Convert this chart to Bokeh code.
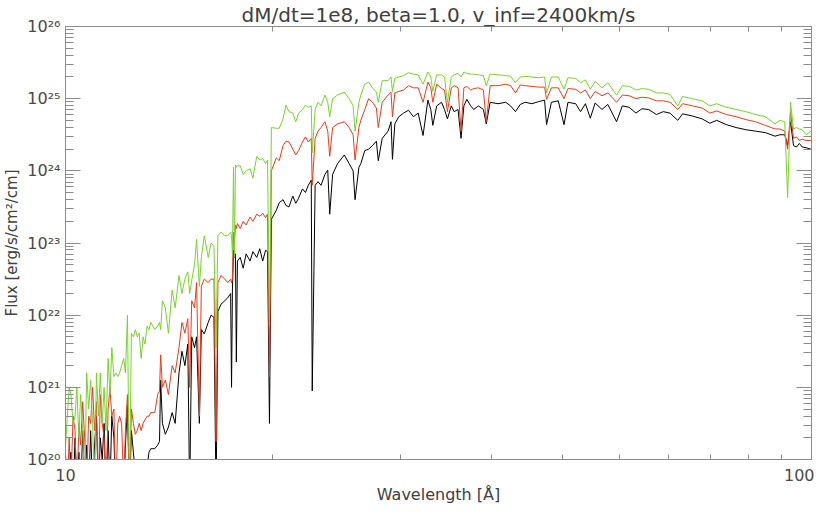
from bokeh.plotting import figure
from bokeh.models import LogAxis, FixedTicker
from bokeh.embed import file_html
from bokeh.resources import INLINE

# ---------------- data ----------------
# wavelength in Angstrom
wavelength = [
    10.39, 10.46, 10.52, 10.58, 10.65, 10.72, 10.78, 10.85, 10.91, 10.98,
    11.05, 11.12, 11.19, 11.26, 11.33, 11.40, 11.47, 11.54, 11.61, 11.68,
    11.75, 11.82, 11.90, 11.97, 12.04, 12.12, 12.19, 12.27, 12.34, 12.42,
    12.50, 12.57, 12.65, 12.73, 12.81, 12.89, 12.97, 13.05, 13.13, 13.21,
    13.29, 13.37, 13.46, 13.54, 13.62,
    13.71, 13.79, 13.92, 14.00, 14.05, 14.13, 14.26, 14.40, 14.57, 14.71,
    14.89, 15.03, 15.17, 15.31, 15.40, 15.50, 15.64, 15.74, 15.88, 15.98,
    16.13, 16.33, 16.48, 16.63, 16.74, 16.84, 17.00, 17.21, 17.37, 17.53,
    17.58, 17.63,
    17.69, 17.74, 17.80, 17.85, 17.91, 18.07, 18.24, 18.41, 18.64, 18.81,
    19.04, 19.22, 19.40, 19.58, 19.70, 19.82, 19.94,
    20.25, 20.44, 20.69, 20.88, 21.08, 21.34, 21.54, 21.73, 22.00, 22.21,
    22.41, 22.62, 22.69, 22.90, 23.11, 23.33, 23.62, 23.83, 23.98, 24.20,
    24.58, 25.11, 25.50, 25.82, 25.98, 26.30, 26.46, 26.79, 27.12, 27.45,
    27.79, 27.96, 28.31, 28.84, 29.11, 29.24, 29.46, 29.83, 30.29, 30.76,
    31.24, 31.72, 32.21, 32.71, 33.01, 33.22, 33.63, 34.15, 34.47, 34.79,
    35.22, 35.54, 35.98, 36.32, 36.65, 36.99, 37.45, 37.80, 38.38, 38.98,
    39.34, 39.82, 40.82, 41.83, 42.48, 43.14, 43.80, 44.48, 45.45, 46.44,
    47.30, 47.60, 48.33,
    49.39, 50.30, 50.93, 52.19, 53.00, 53.82, 54.66, 55.50, 56.71, 57.77,
    59.39, 60.49, 61.81, 63.15, 64.33, 65.73, 67.36, 68.83, 70.32, 72.07,
    73.19, 75.48, 77.83, 79.77, 81.50, 84.05, 86.67, 89.38, 92.17, 95.04,
    98.01, 99.53, 101.07, 102.0, 102.95, 103.91, 104.87, 105.85, 106.83, 108.14,
    109.8,
]

# log10 of flux [erg/s/cm^2/cm] for the three models
log_flux_black = [
    19.6, 19.5, 19.8, 20.1, 19.5, 20.3, 19.6, 20.1, 19.5, 20.4,
    19.7, 20.2, 19.5, 20.4, 19.6, 20.2, 20.6, 19.5, 20.3, 20.0,
    20.5, 19.5, 20.4, 19.6, 20.6, 20.3, 19.5, 20.0, 19.6, 19.5,
    19.5, 20.2, 20.75, 19.5, 20.4, 20.1, 19.8, 19.6, 19.5, 19.5,
    19.5, 19.6, 19.9, 20.1, 20.15,
    20.15, 20.15, 20.2, 20.25, 21.1, 20.5, 20.35, 20.45, 20.65, 20.5,
    21.2, 21.5, 21.3, 21.6, 19.5, 21.7, 21.55, 21.7, 20.5, 21.8,
    21.74, 21.9, 22.0, 21.97, 19.5, 22.05, 22.15, 22.2, 22.24, 22.3,
    21.0, 22.35,
    22.9, 22.8, 22.85, 21.35, 22.75, 22.8, 22.65, 22.85, 22.75, 22.88,
    22.8, 22.92, 22.75, 22.9, 22.88, 20.5, 23.33,
    23.45, 23.56, 23.6, 23.52, 23.5, 23.65, 23.55, 23.62, 23.75, 23.7,
    23.8, 23.87, 20.95, 23.8, 23.85, 23.8, 23.95, 24.01, 23.4, 23.95,
    24.1, 24.22, 24.1, 24.0, 23.6, 24.05, 24.1, 24.28, 24.3, 24.35,
    24.41, 24.14, 24.45, 24.55, 24.68, 24.16, 24.65, 24.75, 24.8, 24.84,
    24.75, 24.8, 24.49, 24.98, 24.85, 24.63, 24.9, 24.95, 24.85, 24.72,
    24.9, 24.82, 24.85, 24.45, 24.9, 24.99, 24.9, 24.85, 24.9, 24.85,
    24.65, 24.95, 24.93, 24.95, 24.9, 24.82, 24.92, 24.95, 24.93, 24.96,
    24.98, 24.64, 24.95,
    24.97, 24.64, 24.95, 24.93, 24.82, 24.93, 24.73, 24.94, 24.85, 24.92,
    24.68, 24.9, 24.88, 24.8, 24.86, 24.85, 24.78, 24.82, 24.8, 24.7,
    24.79, 24.76, 24.72, 24.66, 24.7, 24.64, 24.6, 24.57, 24.55, 24.53,
    24.48, 24.5, 24.5, 24.35, 24.68, 24.35, 24.33, 24.38, 24.33, 24.32,
    24.3,
]

log_flux_red = [
    20.2, 19.5, 20.3, 19.6, 20.6, 20.4, 19.5, 20.5, 20.2, 20.8,
    20.3, 19.6, 20.6, 20.5, 21.0, 20.4, 20.8, 19.5, 20.9, 20.5,
    20.3, 19.5, 20.7, 21.0, 20.6, 20.7, 19.5, 20.5, 20.6, 20.5,
    19.6, 20.4, 20.9, 19.5, 20.7, 20.5, 20.35, 20.4, 20.5, 20.4,
    20.5, 20.55, 20.6, 20.6, 20.65,
    20.65, 20.65, 20.9, 20.95, 21.45, 21.0, 21.1, 20.9, 21.3, 21.2,
    21.55, 21.9, 21.75, 21.95, 21.0, 22.2, 22.1, 22.45, 20.6, 22.4,
    22.5, 22.45, 22.5, 22.5, 20.25, 22.45, 22.55, 22.5, 22.45, 22.5,
    22.45, 22.5,
    23.15, 23.0, 23.25, 23.2, 23.27, 23.2, 23.3, 23.25, 23.36, 23.3,
    23.4, 23.37, 23.41, 23.35, 23.4, 21.15, 24.0,
    24.18, 24.14, 24.35, 24.41, 24.40, 24.3, 24.22, 24.28, 24.4, 24.47,
    24.4, 24.45, 23.8, 24.45, 24.55, 24.6, 24.68, 24.55, 24.2, 24.6,
    24.65, 24.68, 24.6, 24.5, 24.15, 24.6, 24.7, 24.85, 25.0, 24.95,
    24.87, 24.6, 24.95, 25.05, 25.09, 24.75, 25.08, 25.1, 25.12, 25.18,
    25.15, 25.15, 24.95, 25.23, 25.15, 24.95, 25.2, 25.14, 25.12, 24.82,
    25.15, 25.18, 25.15, 24.55, 25.15, 25.17, 25.12, 25.14, 25.15, 25.12,
    24.68, 25.18, 25.18, 25.2, 25.18, 25.08, 25.19, 25.18, 25.17, 25.16,
    25.16, 24.99, 25.15,
    25.15, 25.0, 25.14, 25.13, 25.08, 25.12, 25.0, 25.1, 25.04, 25.08,
    24.95, 25.05, 25.04, 25.0, 25.02, 25.01, 24.97, 24.97, 24.95, 24.85,
    24.93, 24.9, 24.87, 24.8, 24.83, 24.78, 24.75, 24.71, 24.68, 24.63,
    24.58, 24.58, 24.55, 24.3, 24.82, 24.45, 24.47, 24.42, 24.44, 24.42,
    24.42,
]

log_flux_green = [
    20.1, 20.6, 21.0, 20.9, 20.5, 20.6, 21.0, 20.3, 20.9, 20.4,
    19.6, 21.2, 20.7, 21.1, 20.5, 19.5, 21.2, 20.6, 21.2, 20.5,
    21.0, 20.4, 21.4, 20.9, 21.55, 21.15, 21.2, 21.15, 21.2, 21.3,
    21.4, 21.2, 22.0, 19.5, 21.75, 21.7, 21.8, 21.7, 21.75, 21.4,
    21.7, 21.6, 21.85, 21.8, 21.9,
    21.85, 21.8, 21.85, 21.9, 21.8, 22.2, 22.1, 21.75, 22.35, 22.1,
    22.55, 22.3, 22.5, 22.6, 22.3, 22.48, 22.7, 23.05, 22.4, 22.8,
    23.1, 22.8, 23.0, 22.95, 21.55, 23.1, 23.15, 23.1, 23.1, 23.15,
    23.1, 22.85,
    24.05, 22.8, 24.08, 24.05, 24.07, 24.07, 23.95, 24.0, 24.03, 23.9,
    24.2, 24.15, 24.17, 24.1, 24.15, 21.85, 24.6,
    24.59, 24.59, 24.72, 24.91, 24.82, 24.8, 24.68, 24.8, 24.85, 24.91,
    24.88, 24.9, 24.25, 24.85, 24.95, 24.9, 25.05, 24.95, 24.75, 25.0,
    25.05, 25.09, 25.0, 24.9, 24.55, 24.95, 25.05, 25.2, 25.23, 25.15,
    25.09, 24.95, 25.25, 25.25, 25.3, 25.1, 25.28, 25.3, 25.32, 25.36,
    25.34, 25.33, 25.2, 25.37, 25.3, 25.1, 25.33, 25.33, 25.3, 24.95,
    25.3, 25.33, 25.35, 25.3, 25.37, 25.35, 25.34, 25.34, 25.33, 25.32,
    25.18, 25.34, 25.33, 25.32, 25.31, 25.22, 25.3, 25.31, 25.3, 25.29,
    25.3, 25.08, 25.3,
    25.3, 25.13, 25.29, 25.28, 25.22, 25.26, 25.13, 25.24, 25.15, 25.22,
    25.05, 25.18, 25.17, 25.12, 25.14, 25.13, 25.08, 25.08, 25.06, 24.9,
    25.03, 25.0, 24.97, 24.9, 24.93, 24.88, 24.85, 24.82, 24.78, 24.75,
    24.65, 24.7, 24.68, 23.63, 24.95, 24.58, 24.6, 24.58, 24.57, 24.5,
    24.55,
]

x_end_ticks = [10.4, 110.0]
x_end_labels = ["10", "100"]
x_minor_ticks = [20, 30, 40, 50, 60, 70, 80, 90, 100]
y_exponents = [20, 21, 22, 23, 24, 25, 26]

title_text = "dM/dt=1e8, beta=1.0, v_inf=2400km/s"
x_label_text = "Wavelength [Å]"
y_label_text = "Flux [erg/s/cm²/cm]"

# ---------------- styling ----------------
AXIS_GRAY = "#8c8c8c"
TEXT_COLOR = "#4a4a4a"
LABEL_COLOR = "#404040"
FONT = "DejaVu Sans"
GREEN = "#7bd22c"
RED = "#e53d1d"

p = figure(width=814, height=506, x_axis_type="log", y_axis_type="log",
           x_range=(x_end_ticks[0], x_end_ticks[1]), y_range=(1e20, 1e26),
           output_backend="svg", toolbar_location=None,
           min_border_left=0, min_border_right=3,
           min_border_top=0, min_border_bottom=0)
p.xgrid.visible = False
p.ygrid.visible = False
p.outline_line_color = AXIS_GRAY
p.background_fill_color = "white"
p.border_fill_color = "white"

p.title.text = title_text
p.title.align = "center"
p.title.text_font = FONT
p.title.text_font_size = "20px"
p.title.text_font_style = "normal"
p.title.text_color = LABEL_COLOR
p.title.standoff = 0
p.title.offset = 0

def to_flux(exps):
    return [10.0 ** e for e in exps]

p.line(wavelength, to_flux(log_flux_black), line_color="black", line_width=1)
p.line(wavelength, to_flux(log_flux_red), line_color=RED, line_width=1)
p.line(wavelength, to_flux(log_flux_green), line_color=GREEN, line_width=1)

sup = str.maketrans("0123456789", "⁰¹²³⁴⁵⁶⁷⁸⁹")
y_major = [float(f"1e{k}") for k in y_exponents]
y_minor = [float(f"{m}e{k}") for k in y_exponents[:-1] for m in range(2, 10)]
y_labels = {v: "10" + str(k).translate(sup) for v, k in zip(y_major, y_exponents)}
x_labels = {v: s for v, s in zip(x_end_ticks, x_end_labels)}

def style_axis(ax, major_in, minor_in, show_labels):
    ax.axis_line_color = AXIS_GRAY
    ax.major_tick_line_color = AXIS_GRAY
    ax.minor_tick_line_color = AXIS_GRAY
    ax.major_tick_in = major_in
    ax.major_tick_out = 0
    ax.minor_tick_in = minor_in
    ax.minor_tick_out = 0
    ax.major_label_text_font = FONT
    ax.major_label_text_color = TEXT_COLOR
    ax.axis_label_text_font = FONT
    ax.axis_label_text_font_style = "normal"
    ax.axis_label_text_color = LABEL_COLOR
    if show_labels:
        ax.major_label_text_font_size = "16px"
    else:
        ax.major_label_text_font_size = "1px"
        ax.major_label_text_alpha = 0
        ax.major_label_standoff = 0

yl = p.yaxis[0]
yl.ticker = FixedTicker(ticks=y_major, minor_ticks=y_minor)
yl.major_label_overrides = y_labels
style_axis(yl, 15, 8, True)
yl.major_label_standoff = 5
yl.axis_label = y_label_text
yl.axis_label_text_font_size = "15px"
yl.axis_label_standoff = 3

xb = p.xaxis[0]
xb.ticker = FixedTicker(ticks=x_end_ticks, minor_ticks=x_minor_ticks)
xb.major_label_overrides = x_labels
style_axis(xb, 0, 5, True)
xb.major_label_standoff = 9
xb.axis_label = x_label_text
xb.axis_label_text_font_size = "16px"
xb.axis_label_standoff = 1

yr = LogAxis(ticker=FixedTicker(ticks=y_major, minor_ticks=y_minor))
style_axis(yr, 15, 8, False)
p.add_layout(yr, "right")

xt = LogAxis(ticker=FixedTicker(ticks=x_end_ticks, minor_ticks=x_minor_ticks))
style_axis(xt, 0, 5, False)
p.add_layout(xt, "above")

open("out.html", "w").write(file_html(p, INLINE))
